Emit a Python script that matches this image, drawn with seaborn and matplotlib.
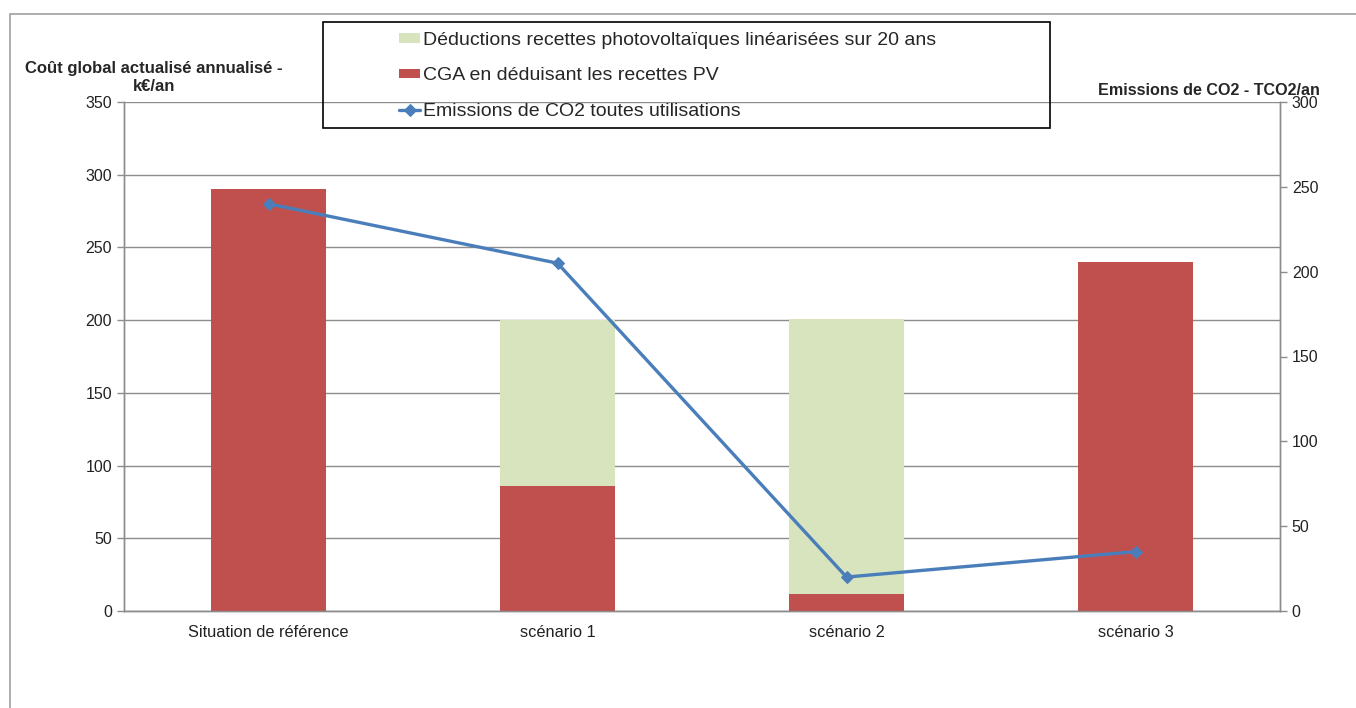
import numpy as np
import pandas as pd
import matplotlib
matplotlib.use("Agg")
import matplotlib.pyplot as plt
from matplotlib.patches import Rectangle
import seaborn as sns

# ── Data ──────────────────────────────────────────────────────────────────────
categories = ["Situation de référence", "scénario 1", "scénario 2", "scénario 3"]
cga_pv = [290, 86, 12, 240]            # CGA en déduisant les recettes PV (k€/an)
deductions_pv = [0, 114, 189, 0]       # déductions recettes PV (k€/an)
co2 = [240, 205, 20, 35]               # émissions CO2 (TCO2/an)
left_ticks = [0, 50, 100, 150, 200, 250, 300, 350]
right_ticks = [0, 50, 100, 150, 200, 250, 300]

GREEN = "#D7E4BD"
RED = "#C0504D"
BLUE = "#4A7EBB"
GRID = "#8C8C8C"

df = pd.DataFrame({"cat": categories, "cga": cga_pv, "ded": deductions_pv, "co2": co2})
df["total"] = df["cga"] + df["ded"]

sns.set_style("white")
plt.rcParams["font.family"] = ["Liberation Sans", "DejaVu Sans"]

fig = plt.figure(figsize=(13.56, 7.08), dpi=100)
ax = fig.add_axes([124 / 1356, 97 / 708, 1156 / 1356, 509 / 708])

sns.barplot(data=df, x="cat", y="total", color=GREEN, width=0.4, errorbar=None,
            saturation=1, linewidth=0, ax=ax,
            label="Déductions recettes photovoltaïques linéarisées sur 20 ans", zorder=2)
sns.barplot(data=df, x="cat", y="cga", color=RED, width=0.4, errorbar=None,
            saturation=1, linewidth=0, ax=ax,
            label="CGA en déduisant les recettes PV", zorder=3)

ax.set_ylim(0, 350)
ax.set_yticks(left_ticks)
ax.set_xlim(-0.5, len(categories) - 0.5)
ax.grid(axis="y", color=GRID, lw=1, zorder=0)
ax.set_axisbelow(True)
ax.set_xlabel("")
ax.set_ylabel("")

ax2 = ax.twinx()
sns.lineplot(data=df, x="cat", y="co2", ax=ax2, color=BLUE, lw=2.4, marker="D",
             markersize=6.5, markeredgecolor=BLUE, sort=False,
             label="Emissions de CO2 toutes utilisations")
ax2.set_ylim(0, 300)
ax2.set_yticks(right_ticks)
ax2.set_xlim(-0.5, len(categories) - 0.5)
ax2.set_xlabel("")
ax2.set_ylabel("")
ax2.grid(False)

# x ticks: labels at category centres, marks at boundaries
ax.set_xticks(range(len(categories)))
ax.set_xticklabels(categories)
ax.set_xticks(np.arange(-0.5, len(categories)), minor=True)
ax.tick_params(axis="x", which="major", length=0, pad=10, labelsize=11.8, colors="#222222")
ax.tick_params(axis="x", which="minor", length=5, width=1, color=GRID, direction="out")
ax.tick_params(axis="y", length=5, width=1, color=GRID, direction="out", labelsize=11.5,
               labelcolor="#222222", left=True)
ax2.tick_params(axis="y", length=5, width=1, color=GRID, direction="out", labelsize=11.5,
                labelcolor="#222222", right=True)

for a in (ax, ax2):
    a.spines["top"].set_visible(False)
    for s in ("left", "right", "bottom"):
        a.spines[s].set_color(GRID)
        a.spines[s].set_linewidth(1)

# ── Legend ────────────────────────────────────────────────────────────────────
h1, l1 = ax.get_legend_handles_labels()
h2, l2 = ax2.get_legend_handles_labels()
if ax2.get_legend():
    ax2.get_legend().remove()
if ax.get_legend():
    ax.get_legend().remove()
fig.legend(h1 + h2, l1 + l2, loc="upper left", bbox_to_anchor=(399 / 1356, 1 - 32 / 708),
           frameon=False, fontsize=14, handlelength=1.1, handleheight=0.38,
           handletextpad=0.15, labelspacing=0.95, borderaxespad=0, borderpad=0)
fig.patches.append(Rectangle((323 / 1356, 1 - 128 / 708), 727 / 1356, 106 / 708,
                             transform=fig.transFigure, fill=False, edgecolor="black",
                             lw=1.2, zorder=5))

# outer chart frame
fig.patches.append(Rectangle((10 / 1356, -0.05), 1.2, 1.05 - 14 / 708,
                             transform=fig.transFigure, fill=False, edgecolor="#A0A0A0",
                             lw=1.2))

# axis titles
fig.text(154 / 1356, 1 - 94 / 708, "Coût global actualisé annualisé -\nk€/an",
         ha="center", va="bottom", fontsize=12, fontweight="bold", linespacing=1.25)
fig.text(1320 / 1356, 1 - 95 / 708, "Emissions de CO2 - TCO2/an",
         ha="right", va="baseline", fontsize=11.6, fontweight="bold")

fig.savefig("out.png", dpi=100)
